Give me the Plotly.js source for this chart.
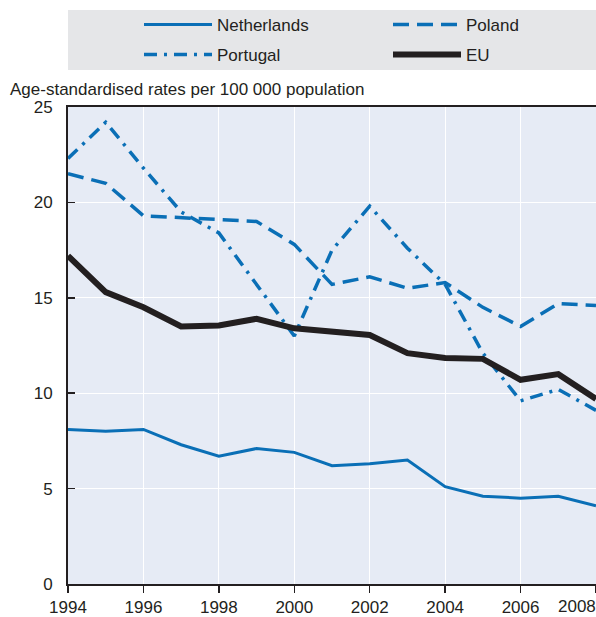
<!DOCTYPE html>
<html>
<head>
<meta charset="utf-8">
<script src="https://cdn.plot.ly/plotly-3.0.1.min.js"></script>
<style>html,body{margin:0;padding:0;background:#fff;}#chart{width:596px;height:617px;}</style>
</head>
<body>
<div id="chart"></div>
<script>
const years = [1994,1995,1996,1997,1998,1999,2000,2001,2002,2003,2004,2005,2006,2007,2008];
const netherlands = [8.1,8.0,8.1,7.3,6.7,7.1,6.9,6.2,6.3,6.5,5.1,4.6,4.5,4.6,4.1];
const poland      = [21.5,21.0,19.3,19.2,19.1,19.0,17.8,15.7,16.1,15.5,15.8,14.5,13.5,14.7,14.6];
const portugal    = [22.3,24.2,21.8,19.5,18.4,15.7,13.0,17.5,19.8,17.6,15.7,12.1,9.6,10.2,9.1];
const eu          = [17.2,15.3,14.5,13.5,13.55,13.9,13.4,13.2,13.05,12.1,11.85,11.8,10.7,11.0,9.7];
const xTickVals = [1994,1996,1998,2000,2002,2004,2006,2008];
const xTickText = ['1994','1996','1998','2000','2002','2004','2006',''];
const yTickVals = [0,5,10,15,20,25];
const yAxisTitle = 'Age-standardised rates per 100 000 population';

const FONT = '"Liberation Sans", Arial, sans-serif';
const FS = 17;
const BLUE = '#0a6fb6';
const DARK = '#231f20';

const traces = [
  {x: years, y: netherlands, name: 'Netherlands', mode: 'lines', legend: 'legend',
   line: {color: BLUE, width: 3}},
  {x: years, y: poland, name: 'Poland', mode: 'lines', legend: 'legend2',
   line: {color: BLUE, width: 3.5, dash: '16px,8px'}},
  {x: years, y: portugal, name: 'Portugal', mode: 'lines', legend: 'legend3',
   line: {color: BLUE, width: 3.5, dash: '13px,7px,3px,7px'}},
  {x: years, y: eu, name: 'EU', mode: 'lines', legend: 'legend4',
   line: {color: DARK, width: 6}}
];

const plotTop = 107, plotBottom = 584, plotH = plotBottom - plotTop;
const plotLeft = 68, plotW = 596 - plotLeft;
const py = v => (plotBottom - v) / plotH;
const px = v => (v - plotLeft) / plotW;
function mkLegend(xPix, yPix) {
  return {
    orientation: 'v', xref: 'paper', yref: 'paper', xanchor: 'left', yanchor: 'middle',
    x: px(xPix), y: py(yPix),
    bgcolor: 'rgba(0,0,0,0)', borderwidth: 0, itemwidth: 68,
    font: {family: FONT, size: FS, color: DARK}, itemclick: false, itemdoubleclick: false
  };
}

const layout = {
  width: 596, height: 617,
  margin: {l: plotLeft, r: 0, t: plotTop, b: 617 - plotBottom, autoexpand: false},
  paper_bgcolor: '#ffffff',
  plot_bgcolor: '#e6ebf5',
  font: {family: FONT, size: FS, color: DARK},
  showlegend: true,
  legend: mkLegend(139, 25),
  legend2: mkLegend(388, 25),
  legend3: mkLegend(139, 55),
  legend4: mkLegend(388, 55),
  xaxis: {
    range: [1994, 2008], tickvals: xTickVals, ticktext: xTickText,
    showgrid: true, gridcolor: '#ffffff', gridwidth: 1.2,
    showline: true, linecolor: DARK, linewidth: 2, mirror: true,
    ticks: 'outside', ticklen: 7, tickcolor: DARK, tickwidth: 1.5,
    zeroline: false, fixedrange: true,
    tickfont: {family: FONT, size: FS, color: DARK}
  },
  yaxis: {
    range: [0, 25], tickvals: yTickVals,
    showgrid: true, gridcolor: '#ffffff', gridwidth: 1.2,
    showline: true, linecolor: DARK, linewidth: 2,
    ticks: 'inside', ticklen: 7, tickcolor: DARK, tickwidth: 1.5,
    ticklabelstandoff: 10,
    zeroline: false, fixedrange: true,
    tickfont: {family: FONT, size: FS, color: DARK}
  },
  shapes: [
    {type: 'rect', xref: 'paper', yref: 'paper', x0: 0, x1: 1, y0: py(70), y1: py(10),
     fillcolor: '#e5e6e8', line: {width: 0}, layer: 'below'}
  ],
  annotations: [
    {text: yAxisTitle, xref: 'paper', yref: 'paper', x: px(8), y: py(89),
     xanchor: 'left', yanchor: 'middle', showarrow: false,
     font: {family: FONT, size: FS, color: DARK}},
    {text: '2008', xref: 'x', yref: 'paper', x: 2008, y: 0, xanchor: 'right', yanchor: 'top',
     yshift: -11, xshift: 2, showarrow: false, font: {family: FONT, size: FS, color: DARK}}
  ]
};

Plotly.newPlot('chart', traces, layout, {staticPlot: true, displayModeBar: false});
</script>
</body>
</html>
